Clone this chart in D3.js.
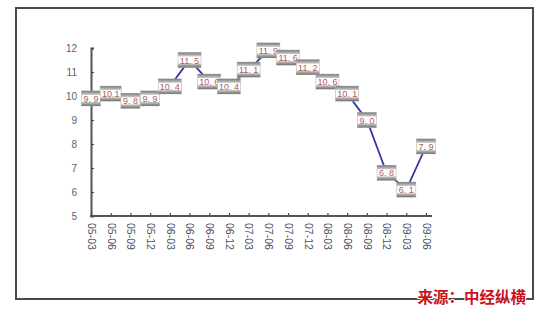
<!DOCTYPE html>
<html><head><meta charset="utf-8">
<script src="https://cdn.jsdelivr.net/npm/d3@7"></script>
<style>body{margin:0;background:#fff}svg{display:block}</style>
</head><body>
<svg id="c" width="538" height="312"></svg>
<script>
const categories = ["05-03","05-06","05-09","05-12","06-03","06-06","06-09","06-12","07-03","07-06","07-09","07-12","08-03","08-06","08-09","08-12","09-03","09-06"];
const values = [9.9,10.1,9.8,9.9,10.4,11.5,10.6,10.4,11.1,11.9,11.6,11.2,10.6,10.1,9.0,6.8,6.1,7.9];
const labels = ["9. 9","10.1","9. 8","9. 9","10. 4","11. 5","10. 6","10. 4","11. 1","11. 9","11. 6","11. 2","10. 6","10. 1","9. 0","6. 8","6. 1","7. 9"];
const yTicks = [5,6,7,8,9,10,11,12];
const sourceText = "来源：中经纵横";

const svg = d3.select("#c");
const defs = svg.append("defs");
const gTop = defs.append("linearGradient").attr("id","gt").attr("x1",0).attr("y1",0).attr("x2",0).attr("y2",1);
gTop.append("stop").attr("offset","0").attr("stop-color","#7a7a7a");
gTop.append("stop").attr("offset","1").attr("stop-color","#d0d0d0");
const gBot = defs.append("linearGradient").attr("id","gb").attr("x1",0).attr("y1",0).attr("x2",0).attr("y2",1);
gBot.append("stop").attr("offset","0").attr("stop-color","#d0d0d0");
gBot.append("stop").attr("offset","1").attr("stop-color","#6e6e6e");

// frame
svg.append("rect").attr("x",16).attr("y",8).attr("width",517).attr("height",291)
  .attr("fill","none").attr("stroke","#4a4a4a").attr("stroke-width",2);

const x = d3.scalePoint().domain(categories).range([91,426]);
const y = d3.scaleLinear().domain([5,12]).range([216,48]);

// y axis
const ya = svg.append("g").attr("transform","translate(91,0)")
  .call(d3.axisLeft(y).tickValues(yTicks).tickSize(-3).tickSizeOuter(-3).tickPadding(14).tickFormat(d3.format("d")));
ya.select(".domain").attr("stroke","#555").attr("stroke-width",2);
ya.selectAll(".tick line").attr("stroke","#444").attr("stroke-width",1.2);
ya.selectAll(".tick text").attr("font-family","Liberation Sans, Arial").attr("font-size",10).attr("fill","#5a6275");

// x axis
const xa = svg.append("g").attr("transform","translate(0,216)")
  .call(d3.axisBottom(x).tickSize(-3).tickSizeOuter(0));
xa.select(".domain").remove();
xa.append("line").attr("x1",90).attr("x2",432).attr("y1",0).attr("y2",0).attr("stroke","#555").attr("stroke-width",2);
xa.selectAll(".tick line").attr("stroke","#444").attr("stroke-width",1.2);
xa.selectAll(".tick text")
  .attr("font-family","Liberation Sans, Arial").attr("font-size",10.5).attr("fill","#4a5060")
  .attr("transform","rotate(90)").attr("text-anchor","start")
  .attr("x",7).attr("y",0).attr("dy","0.35em");

// line
const line = d3.line().x((d,i)=>x(categories[i])).y(d=>y(d));
svg.append("path").datum(values).attr("d",line).attr("fill","none")
  .attr("stroke","#3535a5").attr("stroke-width",1.8);

// labels
const lg = svg.append("g").selectAll("g").data(values).join("g")
  .attr("transform",(d,i)=>`translate(${x(categories[i])},${y(d)})`);
lg.each(function(d,i){
  const g = d3.select(this);
  const w = labels[i].length >= 5 ? 23 : (labels[i].length===4 && labels[i].indexOf(" ")<0 ? 21 : 19);
  const h = 15;
  g.append("rect").attr("x",-w/2).attr("y",-h/2).attr("width",w).attr("height",h).attr("fill","#fff").attr("stroke","#b5b5b5").attr("stroke-width",0.6);
  g.append("rect").attr("x",-w/2).attr("y",-h/2).attr("width",w).attr("height",4).attr("fill","url(#gt)");
  g.append("rect").attr("x",-w/2).attr("y",h/2-4).attr("width",w).attr("height",4).attr("fill","url(#gb)");
  g.append("text").attr("text-anchor","middle").attr("dy","0.35em").attr("y",0.5)
    .attr("font-family","Liberation Sans, Arial").attr("font-size",9).attr("fill","#b0605a")
    .text(labels[i]);
});

// source
svg.append("text").attr("x",526).attr("y",303).attr("text-anchor","end")
  .attr("font-family","Noto Sans CJK SC").attr("font-weight","bold").attr("font-size",15.5)
  .attr("fill","#c8141c").attr("stroke","#fff").attr("stroke-width",2).attr("paint-order","stroke")
  .text(sourceText);
</script>
</body></html>
